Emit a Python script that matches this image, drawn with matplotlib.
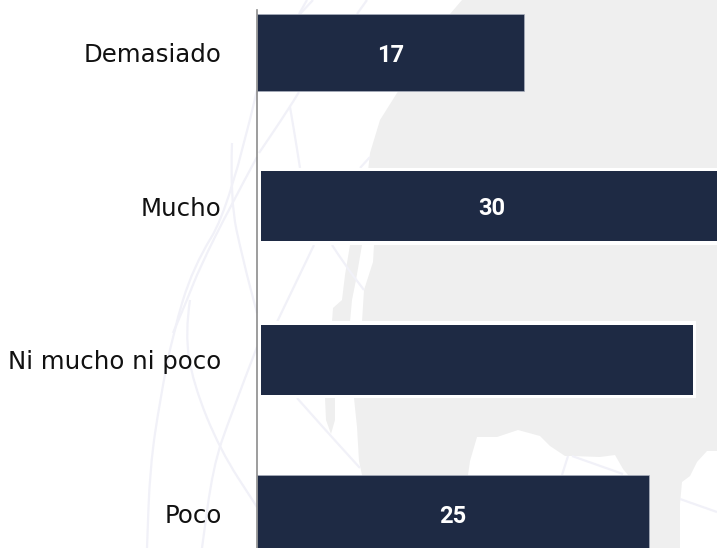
import matplotlib
matplotlib.use("Agg")
import matplotlib.pyplot as plt
from matplotlib.patches import PathPatch, Polygon
from matplotlib.path import Path

categories = ["Demasiado", "Mucho", "Ni mucho ni poco", "Poco"]
values = [17, 30, 28, 25]
# the third bar has no number in the picture
value_labels = ["17", "30", "", "25"]
outlined = [False, True, True, False]

W, H = 717, 548
NAVY = "#1e2a44"
MAP_GREY = "#efefef"
LINE_BLUE = "#f1f1f8"
PX_PER_UNIT = 15.68
ROW_STEP = 153.7

# backdrop: world map and route lines, in image pixels
land = [(462, 0), (717, 0), (717, 451), (707, 451), (697, 462), (690, 476), (682, 482),
        (680, 504), (680, 548), (640, 548), (628, 475), (623, 469), (615, 455), (600, 457),
        (572, 456), (565, 456), (550, 446), (540, 436), (518, 430), (497, 437), (477, 437),
        (470, 461), (468, 475), (468, 548), (362, 548), (362, 475), (359, 461), (357, 427),
        (354, 398), (362, 322), (364, 290), (373, 262), (374, 245), (368, 171), (370, 153),
        (380, 120), (397, 93), (450, 14)]
strip_a = [(350, 245), (362, 245), (356, 280), (352, 300), (350, 322), (332, 322),
           (333, 308), (342, 300), (345, 275)]
strip_b = [(325, 398), (335, 398), (335, 420), (331, 434), (326, 420)]
routes = [
    [(257, 90), (230, 207), (193, 267), (173, 333), (160, 400), (150, 467), (147, 548)],
    [(257, 157), (230, 207), (200, 267), (187, 300), (173, 333)],
    [(232, 143), (230, 200), (243, 260), (257, 313)],
    [(190, 300), (185, 333), (193, 383), (220, 450), (257, 507)],
    [(257, 347), (230, 417), (213, 467), (202, 548)],
    [(299, 92), (290, 107), (259, 153)],
    [(290, 107), (294, 130), (300, 168)],
    [(370, 157), (360, 168)],
    [(314, 245), (277, 322)],
    [(332, 245), (345, 265), (364, 290)],
    [(297, 398), (329, 434), (360, 468)],
    [(313, 0), (300, 14)],
    [(307, 0), (299, 14)],
    [(367, 0), (357, 14)],
    [(572, 456), (623, 474)],
    [(568, 456), (562, 475)],
    [(680, 499), (717, 512)],
]


def smooth_path(points):
    # quadratic curves through the midpoints, so the routes have no corners
    verts = [points[0]]
    codes = [Path.MOVETO]
    for a, b in zip(points[1:-1], points[2:]):
        mid = ((a[0] + b[0]) / 2, (a[1] + b[1]) / 2)
        verts += [a, mid]
        codes += [Path.CURVE3, Path.CURVE3]
    verts.append(points[-1])
    codes.append(Path.LINETO)
    return Path(verts, codes)


fig = plt.figure(figsize=(W / 100, H / 100), dpi=100, facecolor="white")

bg = fig.add_axes([0, 0, 1, 1], zorder=0)
bg.set_xlim(0, W)
bg.set_ylim(H, 0)
bg.axis("off")
for shape in [land, strip_a, strip_b]:
    bg.add_patch(Polygon(shape, closed=True, facecolor=MAP_GREY, edgecolor="none"))
for route in routes:
    bg.add_patch(PathPatch(smooth_path(route), facecolor="none", edgecolor=LINE_BLUE, lw=1.6))

ax = fig.add_axes([257 / W, 0, (W - 257) / W, 1], zorder=1)
ax.patch.set_alpha(0)
ax.set_xlim(0, (W - 257) / PX_PER_UNIT)
ax.set_ylim((H - 52.5) / ROW_STEP, -52.5 / ROW_STEP)

inset = 3.5 / PX_PER_UNIT
for i, v in enumerate(values):
    if outlined[i]:
        ax.barh(i, v, height=0.5, color="white", zorder=2)
        ax.barh(i, v - 2 * inset, left=inset, height=70 / ROW_STEP, color=NAVY, zorder=3)
    else:
        ax.barh(i, v, height=0.5, color=NAVY, edgecolor="#a9afbd", linewidth=0.5, zorder=3)
    if value_labels[i]:
        ax.text(v / 2, i, value_labels[i], color="white", ha="center", va="center_baseline",
                fontsize=17, fontweight="bold", family="Roboto", zorder=4)

ax.set_yticks(range(len(categories)))
ax.set_yticklabels(categories, fontsize=17.6, family="DejaVu Sans", color="#111111")
ax.tick_params(axis="y", length=0, pad=25.5)
ax.set_xticks([])
for side in ["top", "right", "bottom"]:
    ax.spines[side].set_visible(False)
ax.spines["left"].set_color("#8c8c8c")
ax.spines["left"].set_linewidth(1.2)
ax.spines["left"].set_bounds(-42.5 / ROW_STEP, (H - 52.5) / ROW_STEP)
ax.spines["left"].set_zorder(5)

fig.savefig("out.png", dpi=100)
